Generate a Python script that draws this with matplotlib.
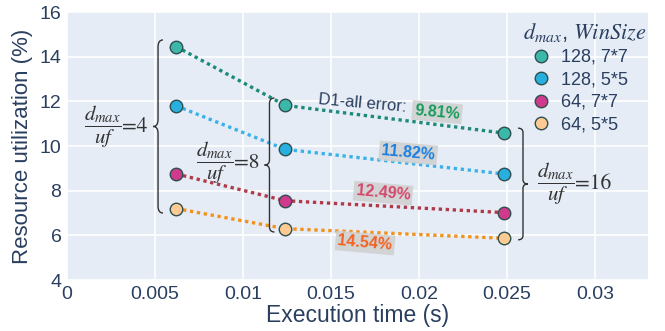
import matplotlib
matplotlib.use("Agg")
import matplotlib.pyplot as plt
from matplotlib.path import Path
import matplotlib.patches as mpatch
from matplotlib.lines import Line2D

plt.rcParams['font.family'] = ['Liberation Sans', 'DejaVu Sans']
plt.rcParams['mathtext.fontset'] = 'stix'

# data
exec_time = [0.0062, 0.0124, 0.0248]
series_names = ['128, 7*7', '128, 5*5', '64, 7*7', '64, 5*5']
util_128_77 = [14.45, 11.82, 10.58]
util_128_55 = [11.8, 9.85, 8.75]
util_64_77 = [8.75, 7.55, 7.02]
util_64_55 = [7.2, 6.3, 5.87]
errors = ['9.81%', '11.82%', '12.49%', '14.54%']
ratios = ['=4', '=8', '=16']

series = [util_128_77, util_128_55, util_64_77, util_64_55]
marker_colors = ['#3cb8a8', '#27afe0', '#d03a8c', '#fcca92']
line_colors = ['#1b8a78', '#3ab2e8', '#b03a48', '#f2921c']
err_colors = ['#179c5c', '#1a7fe0', '#d4486c', '#f26222']
text_col = '#2a3f5f'

fig = plt.figure(figsize=(6.65, 3.31), dpi=100)
ax = fig.add_axes([0.1008, 0.154, 0.8736, 0.8097])
ax.set_facecolor('#e5ecf6')
for s in ax.spines.values():
    s.set_visible(False)
ax.grid(color='white', linewidth=1.2)
ax.set_axisbelow(True)

handles = []
for vals, mc, lc, name in zip(series, marker_colors, line_colors, series_names):
    ax.plot(exec_time, vals, color=lc, linewidth=2.4, dashes=(1, 1.1), zorder=2)
    ax.plot(exec_time, vals, linestyle='none', marker='o', markersize=9,
            markerfacecolor=mc, markeredgecolor='#2f4f4f', markeredgewidth=1, zorder=3)
    handles.append(Line2D([], [], linestyle='none', marker='o', markersize=9,
                          markerfacecolor=mc, markeredgecolor='#2f4f4f', markeredgewidth=1, label=name))

ax.set_xlim(0, 0.033)
ax.set_ylim(4, 16)
ax.set_xticks([0, 0.005, 0.01, 0.015, 0.02, 0.025, 0.03])
ax.set_xticklabels(['0', '0.005', '0.01', '0.015', '0.02', '0.025', '0.03'])
ax.set_yticks(range(4, 17, 2))
ax.tick_params(length=0, labelsize=14, labelcolor=text_col, pad=4)
ax.set_xlabel('Execution time (s)', fontsize=16.5, color=text_col, labelpad=1)
ax.set_ylabel('Resource utilization (%)', fontsize=16, color=text_col, labelpad=5)

leg = ax.legend(handles=handles, title=r'$d_{max}$, $WinSize$', loc='upper left',
                bbox_to_anchor=(0.772, 0.995), frameon=False, fontsize=13,
                handletextpad=0.1, labelspacing=0.3, borderaxespad=0)
leg.get_title().set_fontsize(16)
leg.get_title().set_color(text_col)
leg._legend_box.align = 'left'
for t in leg.get_texts():
    t.set_color(text_col)
leg.set_zorder(5)


def brace(x, y0, y1, w, facing):
    # curly brace as a path, facing=-1 tip left, +1 tip right
    ym = (y0 + y1) / 2
    r = (y1 - y0) * 0.04
    s = -facing
    verts = [(x + s * w, y1), (x, y1), (x, y1 - r),
             (x, ym + r), (x, ym), (x - s * w, ym),
             (x, ym), (x, ym - r),
             (x, y0 + r), (x, y0), (x + s * w, y0)]
    codes = [Path.MOVETO, Path.CURVE3, Path.CURVE3,
             Path.LINETO, Path.CURVE3, Path.CURVE3,
             Path.CURVE3, Path.CURVE3,
             Path.LINETO, Path.CURVE3, Path.CURVE3]
    ax.add_patch(mpatch.PathPatch(Path(verts, codes), fill=False, edgecolor='#333333',
                                  linewidth=1.0, zorder=4))


brace(0.00517, 7.0, 14.75, 0.00028, -1)
brace(0.01150, 6.15, 12.15, 0.00028, -1)
brace(0.02590, 5.8, 10.8, 0.00028, 1)

frac = r'$\dfrac{d_{max}}{uf}$'
label_pos = [(0.00310, 10.85), (0.00946, 9.25), (0.02886, 8.30)]
for (lx, ly), rt in zip(label_pos, ratios):
    ax.text(lx, ly, frac, fontsize=15, color='#333333', ha='right', va='center')
    ax.text(lx, ly, rt, fontsize=15.5, color='#333333', ha='left', va='center',
            family='STIXGeneral')

ax.text(0.01676, 11.9, 'D1-all error:', fontsize=12, color=text_col, rotation=-5,
        ha='center', va='center')
err_pos = [(0.02102, 11.52), (0.01938, 9.69), (0.01795, 7.89), (0.01693, 5.66)]
for (ex, ey), txt, c in zip(err_pos, errors, err_colors):
    ax.text(ex, ey, txt, fontsize=11.5, fontweight='bold', color=c, rotation=-5,
            ha='center', va='center', zorder=5,
            bbox=dict(boxstyle='square,pad=0.15', facecolor='#cfcfcf', edgecolor='none', alpha=0.85))

fig.savefig('out.png', dpi=100)
